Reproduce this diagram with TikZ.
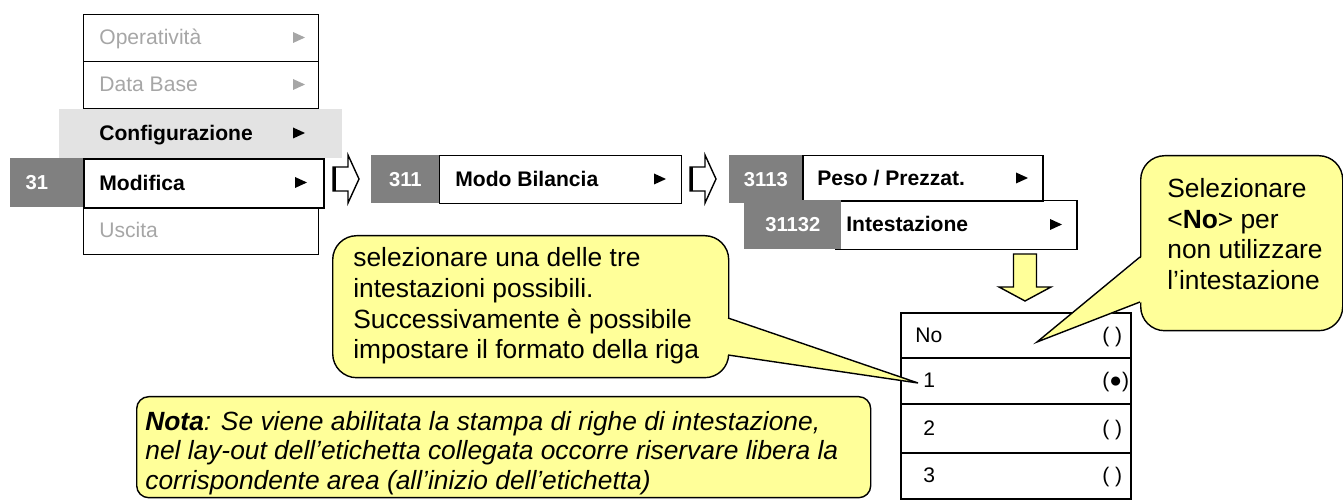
\documentclass[tikz,border=0pt]{standalone}
\usepackage{fontspec}
\setmainfont{Liberation Sans}
\usetikzlibrary{positioning}
\newdimen\px
\px=0.02cm
\definecolor{numgray}{HTML}{808080}
\definecolor{bandgray}{HTML}{E3E3E3}
\definecolor{offgray}{HTML}{A6A6A6}
\definecolor{noteyellow}{HTML}{FFFF99}

\begin{document}
\begin{tikzpicture}[x=0.02cm, y=-0.02cm,
    every node/.style={inner sep=0pt, font=\fontsize{12}{14}\selectfont},
    menubox/.style={draw, line width=0.85pt, anchor=north west},
    numbox/.style={fill=numgray, anchor=north west, text=white, font=\fontsize{11.5}{14}\selectfont\bfseries},
    item/.style={anchor=west, text height=9pt, text depth=1.5pt},
    bolditem/.style={item, font=\fontsize{12}{14}\selectfont\bfseries},
    balloon/.style={draw, line width=0.8pt, fill=noteyellow, anchor=north west, rounded corners=24\px},
    balloontext/.style={anchor=west, align=left, font=\fontsize{15}{17.4}\selectfont},
    tabrow/.style={draw, line width=1.1pt, anchor=north west, minimum width=230\px},
    openarrow/.style={draw, line width=0.8pt, fill=white}]
  \useasboundingbox (0,0) rectangle (1343,502);

  % menu 3
  \node[menubox, minimum width=235\px, minimum height=47\px] (oper) at (83,14) {};
  \node[menubox, minimum width=235\px, minimum height=47\px] (db) at (83,61) {};
  \node[menubox, minimum width=235\px, minimum height=47\px] (usc) at (83,207) {};
  \node[fill=bandgray, anchor=north west, minimum width=283\px, minimum height=49\px] (conf) at (59,109) {};
  \node[menubox, line width=1.25pt, minimum width=240\px, minimum height=49\px] (mod) at (83,158) {};
  \node[numbox, minimum width=73\px, minimum height=49\px] (n31) at (10,158) {31\hspace*{20\px}};
  \node[item, text=offgray, right=16\px of oper.west] (toper) {Operatività};
  \node[item, text=offgray, right=16\px of db.west] (tdb) {Data Base};
  \node[bolditem, right=40\px of conf.west] (tconf) {Configurazione};
  \node[bolditem, right=16\px of mod.west] (tmod) {Modifica};
  \node[item, text=offgray, right=16\px of usc.west] (tusc) {Uscita};

  % menu 31
  \node[menubox, minimum width=242\px, minimum height=48\px] (modo) at (439,155) {};
  \node[numbox, minimum width=68\px, minimum height=48\px] (n311) at (371,155) {311};
  \node[bolditem, right=16\px of modo.west] (tmodo) {Modo Bilancia};

  % menu 311
  \node[menubox, minimum width=240\px, minimum height=46\px] (peso) at (802,155) {};
  \node[menubox, minimum width=241\px, minimum height=49\px] (intest) at (835,200) {};
  \node[numbox, minimum width=73\px, minimum height=48\px] (n3113) at (729,155) {3113};
  \node[numbox, minimum width=97\px, minimum height=49\px] (n31132) at (744,200) {31132};
  \node[bolditem, right=15\px of peso.west] (tpeso) {Peso / Prezzat.};
  \node[bolditem, right=11\px of intest.west] (tint) {Intestazione};

  % triangles
  \foreach \tx/\ty/\tc in {299/37.5/offgray, 299/84.5/offgray, 299/133/black, 301/182.5/black,
      660/179/black, 1022/178/black, 1056/224.5/black}
    \fill[\tc] (\tx-6,\ty-5.5) -- (\tx+6,\ty) -- (\tx-6,\ty+5.5) -- cycle;

  % open arrows between menus
  \coordinate (arr1) at (333,179);
  \coordinate (arr2) at (690,179);
  \foreach \a in {arr1,arr2} {
    \draw[openarrow] (\a) ++(0,-12) -- ++(15,0) -- ++(0,-12) -- ++(11,24) -- ++(-11,24)
      -- ++(0,-12) -- ++(-15,0) -- cycle;
    \draw[line width=2.2pt] (\a) ++(1.5,-12) -- ++(0,24);
  }

  % down arrow
  \draw[line width=0.8pt, fill=noteyellow] (1013.5,254) -- (1036.5,254) -- (1036.5,287)
    -- (1051,287) -- (1025,301) -- (999,287) -- (1013.5,287) -- cycle;

  % options table
  \node[tabrow, minimum height=45\px] (rowno) at (900,312) {};
  \node[tabrow, minimum height=46\px] (row1) at (900,357) {};
  \node[tabrow, minimum height=49\px] (row2) at (900,403) {};
  \node[tabrow, minimum height=46\px] (row3) at (900,452) {};
  \node[item, right=15\px of rowno.west] (tno) {No};
  \node[item, right=23\px of row1.west] (t1) {1};
  \node[item, right=23\px of row2.west] (t2) {2};
  \node[item, right=23\px of row3.west] (t3) {3};
  \node[item, right=202\px of rowno.west] (pno) {( )};
  \node[item, right=202\px of row1.west] (p1) {(●)};
  \node[item, right=202\px of row2.west] (p2) {( )};
  \node[item, right=202\px of row3.west] (p3) {( )};

  % balloon on the left
  \node[balloon, minimum width=396\px, minimum height=142\px] (tipA) at (332,235) {};
  \coordinate (ptA) at (918,383);
  \fill[noteyellow] (726,318) -- (ptA) -- (726,355) -- cycle;
  \draw[line width=0.8pt] (728,318) -- (ptA) -- (728,355);
  \node[balloontext] (txtA) at (353,306) {selezionare una delle tre\\intestazioni possibili.\\Successivamente è possibile\\impostare il formato della riga};

  % balloon on the right
  \node[balloon, minimum width=202\px, minimum height=175\px] (tipB) at (1140,155) {};
  \coordinate (ptB) at (1037,342);
  \fill[noteyellow] (1142,257) -- (ptB) -- (1142,302) -- cycle;
  \draw[line width=0.8pt] (1140,257) -- (ptB) -- (1140,302);
  \node[balloontext] (txtB) at (1167,234) {Selezionare\\<\textbf{No}> per\\non utilizzare\\l’intestazione};

  % note
  \node[balloon, rounded corners=12\px, minimum width=734\px, minimum height=101\px] (nota) at (136,396) {};
  \node[balloontext, font=\fontsize{15}{16.8}\selectfont\itshape] (txtN) at (145,453) {\textbf{Nota}: Se viene abilitata la stampa di righe di intestazione,\\nel lay-out dell’etichetta collegata occorre riservare libera la\\corrispondente area (all’inizio dell’etichetta)};
\end{tikzpicture}
\end{document}
